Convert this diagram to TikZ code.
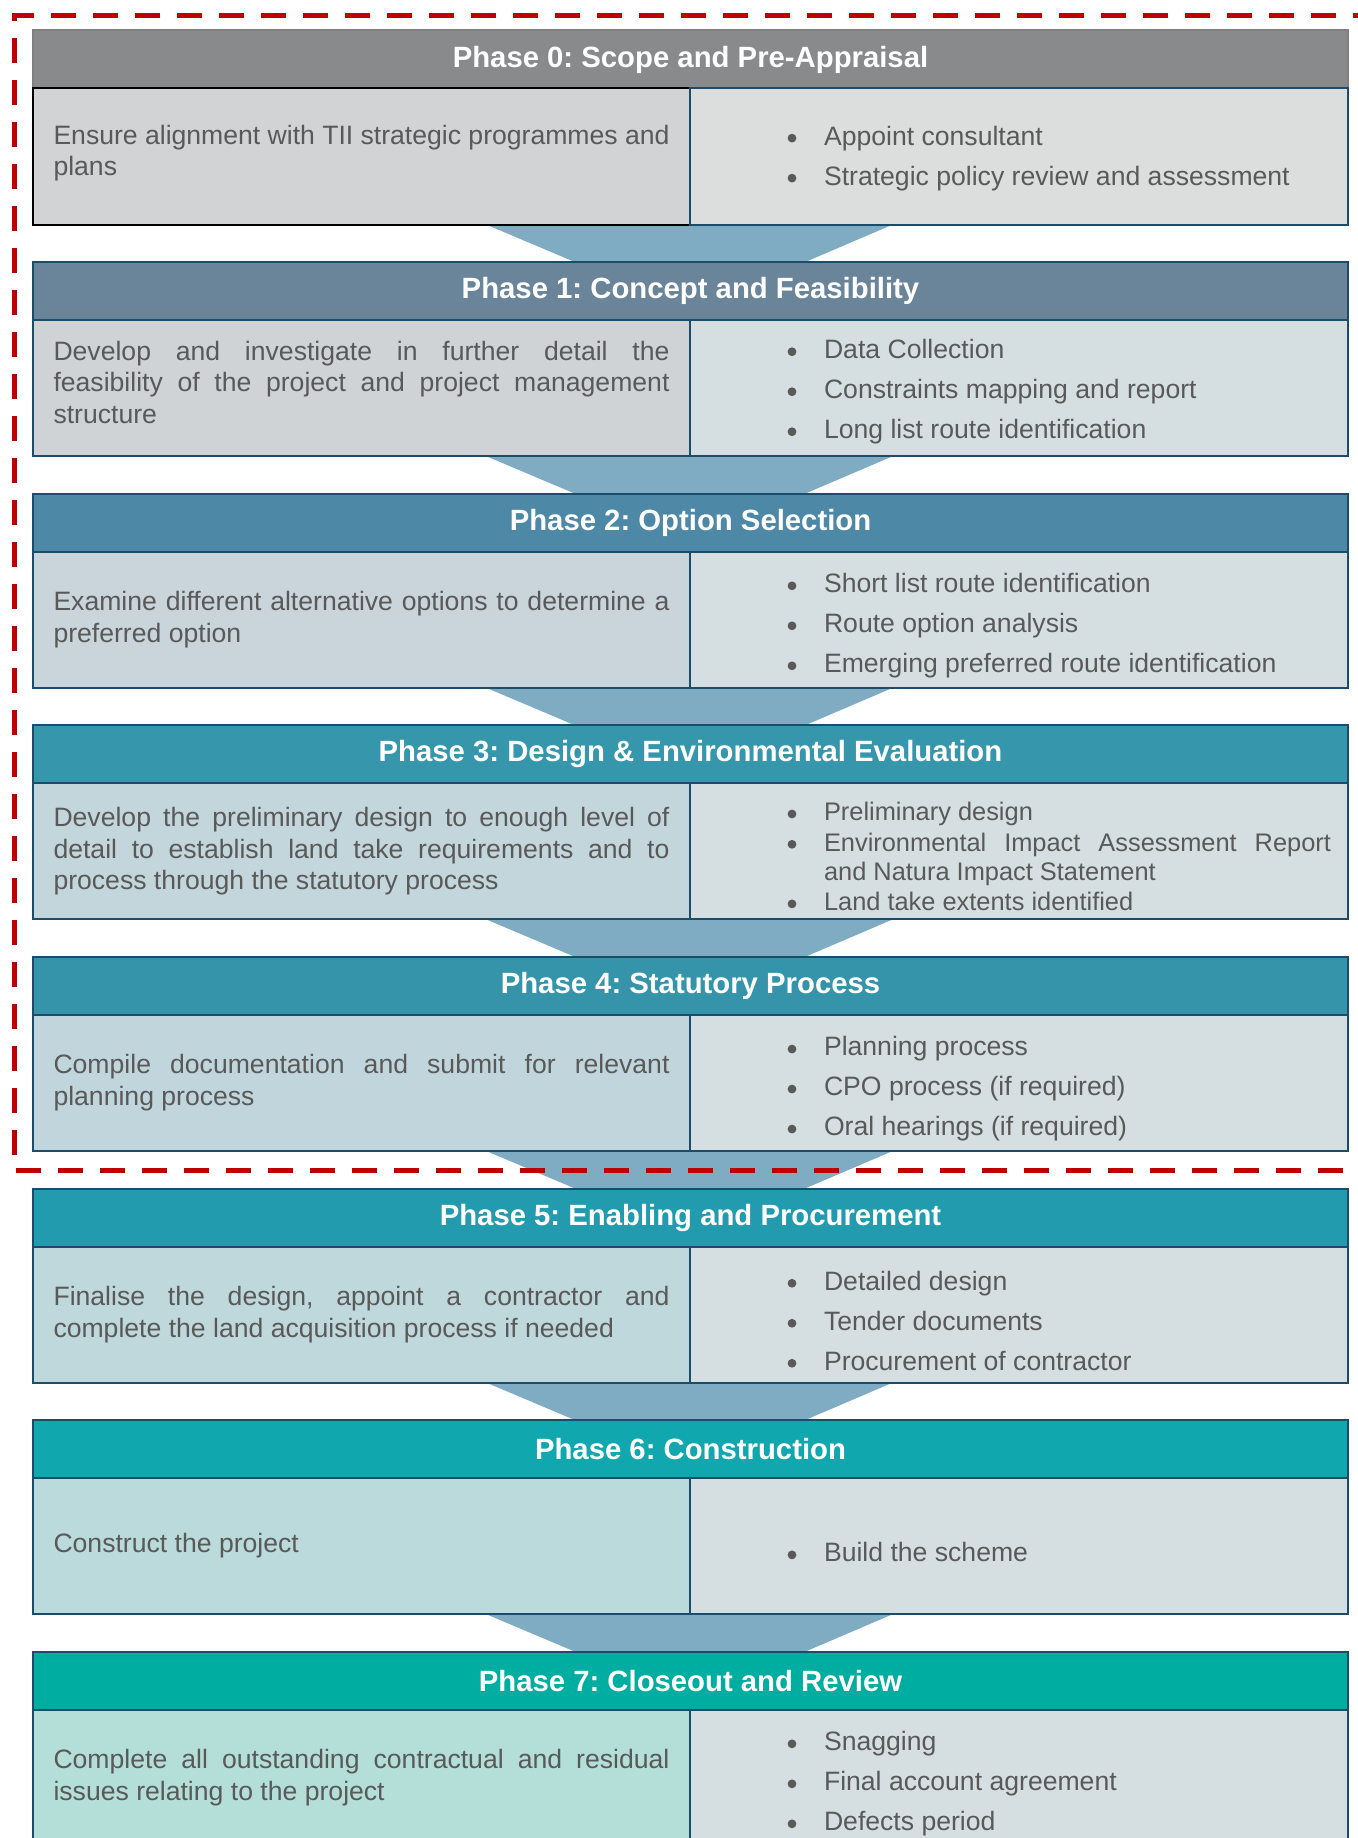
\documentclass[tikz,border=0pt]{standalone}
\usepackage{fontspec}
\setmainfont{Liberation Sans}
\frenchspacing
\usetikzlibrary{backgrounds}

\definecolor{bodytext}{HTML}{595959}
\definecolor{navyline}{HTML}{1B4D6B}
\definecolor{chevronblue}{HTML}{7FACC3}
\definecolor{framered}{HTML}{C00000}
\definecolor{headzero}{HTML}{898A8C}
\definecolor{headone}{HTML}{6A8599}
\definecolor{headtwo}{HTML}{4D88A6}
\definecolor{headthree}{HTML}{3697AC}
\definecolor{headfour}{HTML}{3594AA}
\definecolor{headfive}{HTML}{229BAE}
\definecolor{headsix}{HTML}{10A8AE}
\definecolor{headseven}{HTML}{00ADA1}
\definecolor{aimzero}{HTML}{D2D3D5}
\definecolor{aimone}{HTML}{CFD3D6}
\definecolor{aimtwo}{HTML}{C9D4DB}
\definecolor{aimthree}{HTML}{C3D6DC}
\definecolor{aimfour}{HTML}{C1D6DC}
\definecolor{aimfive}{HTML}{BFD8DC}
\definecolor{aimsix}{HTML}{BADADB}
\definecolor{aimseven}{HTML}{B4DFD9}
\definecolor{taskzero}{HTML}{DCDEDE}
\definecolor{taskfill}{HTML}{D5DFE1}

\tikzstyle{phasehead} = [draw=navyline, line width=2pt, rectangle, anchor=north west,
    minimum width=1315pt, minimum height=58pt, inner sep=0pt, outer sep=0pt,
    text=white, font=\fontsize{29.3}{34}\selectfont\bfseries]
\tikzstyle{aimbox} = [draw=navyline, line width=2pt, rectangle, anchor=north west,
    minimum width=657pt, minimum height=136pt, inner xsep=20.5pt, inner ysep=0pt, outer sep=0pt,
    text width=616pt, align=justify, text=bodytext, font=\fontsize{26.6}{31.6}\selectfont]
\tikzstyle{taskbox} = [draw=navyline, line width=2pt, rectangle, anchor=north west, fill=taskfill,
    minimum width=658pt, minimum height=136pt, inner xsep=17pt, inner ysep=0pt, outer sep=0pt,
    text width=624pt, align=justify, text=bodytext, font=\fontsize{26.6}{31.6}\selectfont]
\tikzstyle{chevron} = [fill=chevronblue]
\tikzstyle{scopeframe} = [draw=framered, line width=5pt, dash pattern=on 25pt off 17pt]
\tikzset{lifted/.style={execute at end node={\par\vspace{#1}}}}

\newlength{\taskgap}
\setlength{\taskgap}{8.4pt}
\newcommand{\dotmark}{\tikz[baseline=-6.9pt]\fill[bodytext] (0,0) circle (4.4pt);}
\newcommand{\lasttask}[1]{\par\noindent\hangindent=117pt\hangafter=1\hspace*{80.6pt}\makebox[36.4pt][l]{\dotmark}#1\par}
\newcommand{\task}[1]{\lasttask{#1}\vspace{\taskgap}}

\begin{document}
\begin{tikzpicture}[x=1pt, y=-1pt]
    \useasboundingbox (0,0) rectangle (1357,1838);

    % phase 0
    \node[phasehead, fill=headzero, draw=gray] (h0) at (33,30.5) {Phase 0: Scope and Pre-Appraisal};
    \node[aimbox, fill=aimzero, draw=black, lifted=7pt] (l0) at (h0.south west) {Ensure alignment with TII strategic programmes and\linebreak plans};
    \node[taskbox, fill=taskzero, lifted=9pt] (r0) at (l0.north east) {\task{Appoint consultant}\lasttask{Strategic policy review and assessment}};

    % phase 1
    \node[phasehead, fill=headone] (h1) at ([yshift=-37.6pt]l0.south west) {Phase 1: Concept and Feasibility};
    \node[aimbox, fill=aimone, lifted=12pt] (l1) at (h1.south west) {Develop and investigate in further detail the\linebreak feasibility of the project and project management\linebreak structure};
    \node[taskbox, lifted=5pt] (r1) at (l1.north east) {\task{Data Collection}\task{Constraints mapping and report}\lasttask{Long list route identification}};

    % phase 2
    \node[phasehead, fill=headtwo] (h2) at ([yshift=-37.6pt]l1.south west) {Phase 2: Option Selection};
    \node[aimbox, fill=aimtwo] (l2) at (h2.south west) {Examine different alternative options to determine a\linebreak preferred option};
    \node[taskbox] (r2) at (l2.north east) {\task{Short list route identification}\task{Route option analysis}\lasttask{Emerging preferred route identification}};

    % phase 3
    \node[phasehead, fill=headthree] (h3) at ([yshift=-37.6pt]l2.south west) {Phase 3: Design \& Environmental Evaluation};
    \node[aimbox, fill=aimthree] (l3) at (h3.south west) {Develop the preliminary design to enough level of\linebreak detail to establish land take requirements and to\linebreak process through the statutory process};
    \node[taskbox, font=\fontsize{25.4}{29.3}\selectfont] (r3) at (l3.north east) {\setlength{\taskgap}{1pt}\task{Preliminary design}\task{Environmental Impact Assessment Report\linebreak and Natura Impact Statement}\lasttask{Land take extents identified}};

    % phase 4
    \node[phasehead, fill=headfour] (h4) at ([yshift=-37.6pt]l3.south west) {Phase 4: Statutory Process};
    \node[aimbox, fill=aimfour] (l4) at (h4.south west) {Compile documentation and submit for relevant\linebreak planning process};
    \node[taskbox] (r4) at (l4.north east) {\task{Planning process}\task{CPO process (if required)}\lasttask{Oral hearings (if required)}};

    % phase 5
    \node[phasehead, fill=headfive] (h5) at ([yshift=-37.6pt]l4.south west) {Phase 5: Enabling and Procurement};
    \node[aimbox, fill=aimfive] (l5) at (h5.south west) {Finalise the design, appoint a contractor and\linebreak complete the land acquisition process if needed};
    \node[taskbox] (r5) at (l5.north east) {\task{Detailed design}\task{Tender documents}\lasttask{Procurement of contractor}};

    % phase 6
    \node[phasehead, fill=headsix] (h6) at ([yshift=-37.6pt]l5.south west) {Phase 6: Construction};
    \node[aimbox, fill=aimsix] (l6) at (h6.south west) {Construct the project};
    \node[taskbox] (r6) at (l6.north east) {\lasttask{Build the scheme}};

    % phase 7
    \node[phasehead, fill=headseven] (h7) at ([yshift=-37.6pt]l6.south west) {Phase 7: Closeout and Review};
    \node[aimbox, fill=aimseven] (l7) at (h7.south west) {Complete all outstanding contractual and residual\linebreak issues relating to the project};
    \node[taskbox] (r7) at (l7.north east) {\task{Snagging}\task{Final account agreement}\lasttask{Defects period}};

    % chevrons between the phases
    \begin{scope}[on background layer]
        \foreach \a/\b in {0/1,1/2,2/3,3/4,4/5,5/6,6/7}
            \fill[chevron] ([xshift=-204pt]l\a.south east) -- ([xshift=203pt]l\a.south east)
                -- ([xshift=114.5pt]h\b.north) -- ([xshift=-115.5pt]h\b.north) -- cycle;
    \end{scope}

    % dashed scope frame
    \draw[scopeframe] (1420,16) -- (14,16) -- (14,1170) -- (1420,1170);
\end{tikzpicture}
\end{document}
